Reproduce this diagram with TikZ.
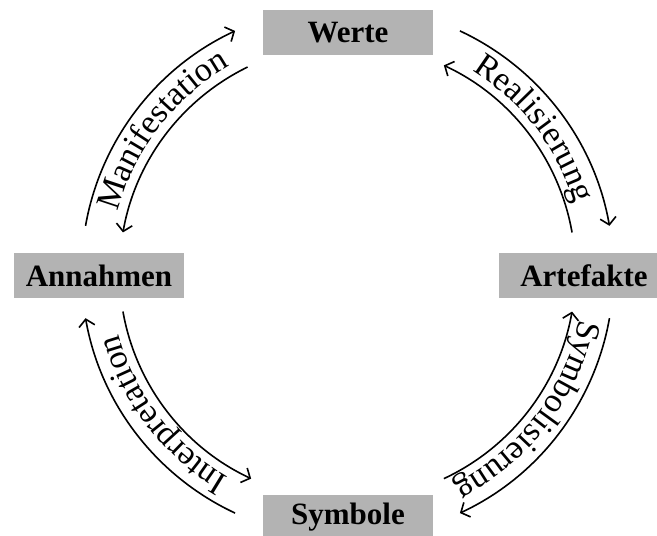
\documentclass[tikz,border=0pt]{standalone}
\usepackage{fontspec}
\setmainfont{Liberation Serif}
\usetikzlibrary{arrows.meta,decorations.text,calc}
\definecolor{boxgray}{RGB}{179,179,179}
\begin{document}
\begin{tikzpicture}[x=1pt,y=1pt,
  concept/.style={fill=boxgray, minimum width=170pt, minimum height=45pt, inner sep=0pt,
    font=\fontsize{31}{31}\selectfont\bfseries},
  cycarrow/.style={line width=1.6pt, -{Straight Barb[length=7pt,width=16pt,line width=1.6pt]}},
  cyclabel/.style={decorate, decoration={text along path, text align=center,
    text={|\fontsize{34}{34}\selectfont|#1}}}
]
\useasboundingbox (0,0) rectangle (657,536);
\coordinate (C) at (347.5,264);
\node[concept] (werte) at (348,503.5) {Werte};
\node[concept] (annahmen) at (99,260) {Annahmen};
\node[concept] (artefakte) at (584,260) {Artefakte};
\node[concept] (symbole) at (348,18.5) {Symbole};
% Manifestation
\draw[cycarrow] ($(C)+(170:266)$) arc[start angle=170,end angle=115,radius=266];
\draw[cycarrow] ($(C)+(116:228)$) arc[start angle=116,end angle=170,radius=228];
\path[cyclabel=Manifestation] ($(C)+(170:237)$) arc[start angle=170,end angle=115,radius=237];
% Realisierung
\draw[cycarrow] ($(C)+(65:266)$) arc[start angle=65,end angle=10,radius=266];
\draw[cycarrow] ($(C)+(10:228)$) arc[start angle=10,end angle=65,radius=228];
\path[cyclabel=Realisierung] ($(C)+(65:237)$) arc[start angle=65,end angle=10,radius=237];
% Interpretation
\draw[cycarrow] ($(C)+(245:266)$) arc[start angle=245,end angle=190,radius=266];
\draw[cycarrow] ($(C)+(190:228)$) arc[start angle=190,end angle=245,radius=228];
\path[cyclabel=Interpretation] ($(C)+(245:237)$) arc[start angle=245,end angle=190,radius=237];
% Symbolisierung
\draw[cycarrow] ($(C)+(-10:266)$) arc[start angle=-10,end angle=-65,radius=266];
\draw[cycarrow] ($(C)+(-65:228)$) arc[start angle=-65,end angle=-10,radius=228];
\path[cyclabel=Symbolisierung] ($(C)+(-10:237)$) arc[start angle=-10,end angle=-65,radius=237];
\end{tikzpicture}
\end{document}
